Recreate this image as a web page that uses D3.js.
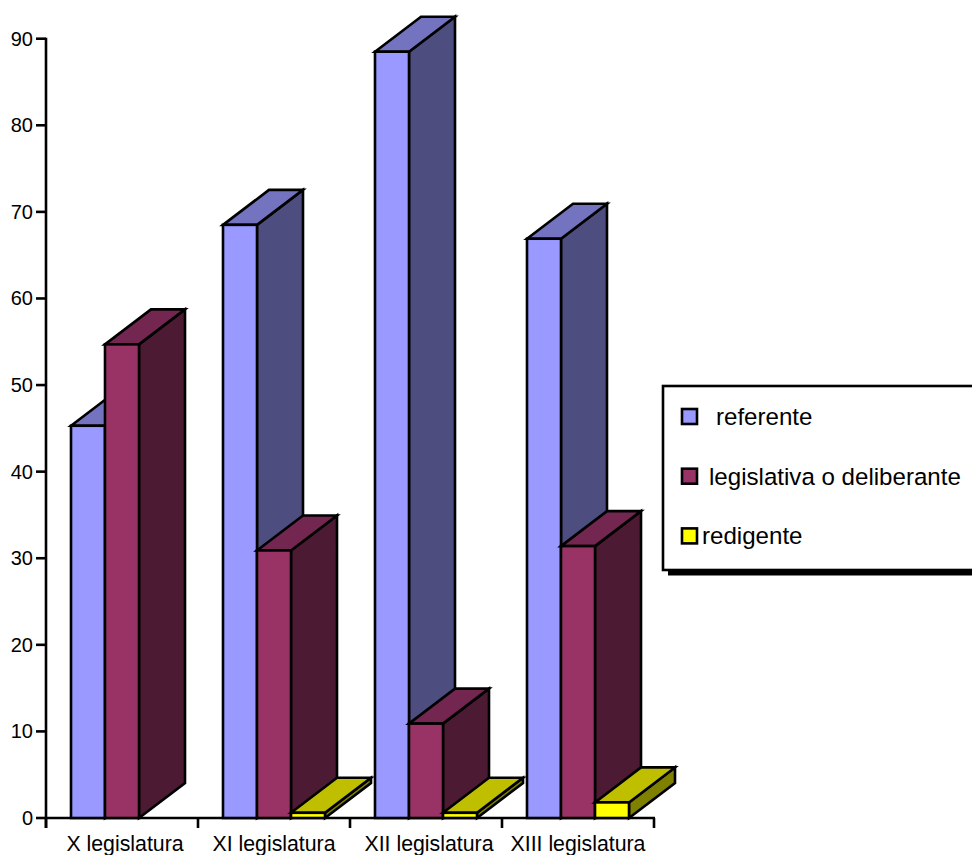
<!DOCTYPE html>
<html><head><meta charset="utf-8">
<script src="https://cdn.jsdelivr.net/npm/d3@7"></script>
<style>html,body{margin:0;padding:0;background:#fff;overflow:hidden}svg{display:block}text{font-family:"Liberation Sans",Arial,sans-serif;fill:#000}</style>
</head><body><svg id="c" width="972" height="855"></svg>
<script>
const categories = ["X legislatura","XI legislatura","XII legislatura","XIII legislatura"];
const seriesNames = ["referente","legislativa o deliberante","redigente"];
const referente = [45.3,68.5,88.5,66.9];
const legislativa = [54.7,30.9,10.9,31.4];
const redigente = [0,0.6,0.6,1.8];
const yTicks = [0,10,20,30,40,50,60,70,80,90];
const faceColors = ["#9999ff","#993366","#ffff00"];
const topColors = ["#7373bf","#732650","#bfbf00"];
const sideColors = ["#4d4d80","#4d1a33","#808000"];
const legendLabelX = [716,709,702];

const seriesValues = [referente,legislativa,redigente];
const svg = d3.select("#c");
const x0 = d3.scaleBand().domain(categories).range([46,654]);
const xS = d3.scaleBand().domain([0,1,2]).range([71,173]);
const y = d3.scaleLinear().domain([0,90]).range([818,38.7]);
const dx = 46, dy = -35;
const line = {stroke:"#000","stroke-width":2.6,"stroke-linejoin":"miter"};
const ap = (s,o)=>{Object.entries(o).forEach(([k,v])=>s.attr(k,v));return s;};

// y axis
const gy = svg.append("g");
ap(gy.append("line").attr("x1",46).attr("x2",46).attr("y1",y(90)-1).attr("y2",828),line);
const yt = gy.selectAll("g").data(yTicks).join("g");
ap(yt.append("line").attr("x1",36).attr("x2",46).attr("y1",d=>y(d)).attr("y2",d=>y(d)),line);
yt.append("text").attr("x",33).attr("y",d=>y(d)+7).attr("text-anchor","end").attr("font-size",20).text(d=>d);

// x axis
const gx = svg.append("g");
ap(gx.append("line").attr("x1",45).attr("x2",655).attr("y1",y(0)).attr("y2",y(0)),line);
const edges = categories.map(c=>x0(c)).concat([x0.range()[1]]);
ap(gx.selectAll("line.t").data(edges).join("line").attr("class","t").attr("x1",d=>d).attr("x2",d=>d).attr("y1",y(0)).attr("y2",828),line);
gx.selectAll("text").data(categories).join("text")
  .attr("x",d=>x0(d)+x0.bandwidth()/2+(d==="X legislatura"?3:d==="XII legislatura"?3:0))
  .attr("y",851).attr("text-anchor","middle").attr("font-size",21.3).text(d=>d);

// bars
categories.forEach((c,ci)=>{
  const off = x0(c)-x0(categories[0]);
  seriesValues.forEach((vals,si)=>{
    const v = vals[ci]; if(!v) return;
    const l = xS(si)+off, r = l+xS.bandwidth(), t = y(v), b = y(0);
    const g = svg.append("g");
    ap(g.append("path").attr("d",`M${r},${b}L${r+dx},${b+dy}L${r+dx},${t+dy}L${r},${t}Z`).attr("fill",sideColors[si]),line);
    ap(g.append("path").attr("d",`M${l},${t}L${l+dx},${t+dy}L${r+dx},${t+dy}L${r},${t}Z`).attr("fill",topColors[si]),line);
    ap(g.append("rect").attr("x",l).attr("y",t).attr("width",r-l).attr("height",b-t).attr("fill",faceColors[si]),line);
  });
});

// legend
const lg = svg.append("g");
lg.append("rect").attr("x",668).attr("y",391).attr("width",320).attr("height",184.5).attr("fill","#000");
ap(lg.append("rect").attr("x",663).attr("y",386).attr("width",330).attr("height",184).attr("fill","#fff"),line);
const li = lg.selectAll("g").data(seriesNames).join("g");
ap(li.append("rect").attr("x",682).attr("y",(d,i)=>409+i*59.7).attr("width",15).attr("height",15).attr("fill",(d,i)=>faceColors[i]),line);
li.append("text").attr("x",(d,i)=>legendLabelX[i]).attr("y",(d,i)=>425+i*59.5).attr("font-size",24.1).text(d=>d);
</script></body></html>
